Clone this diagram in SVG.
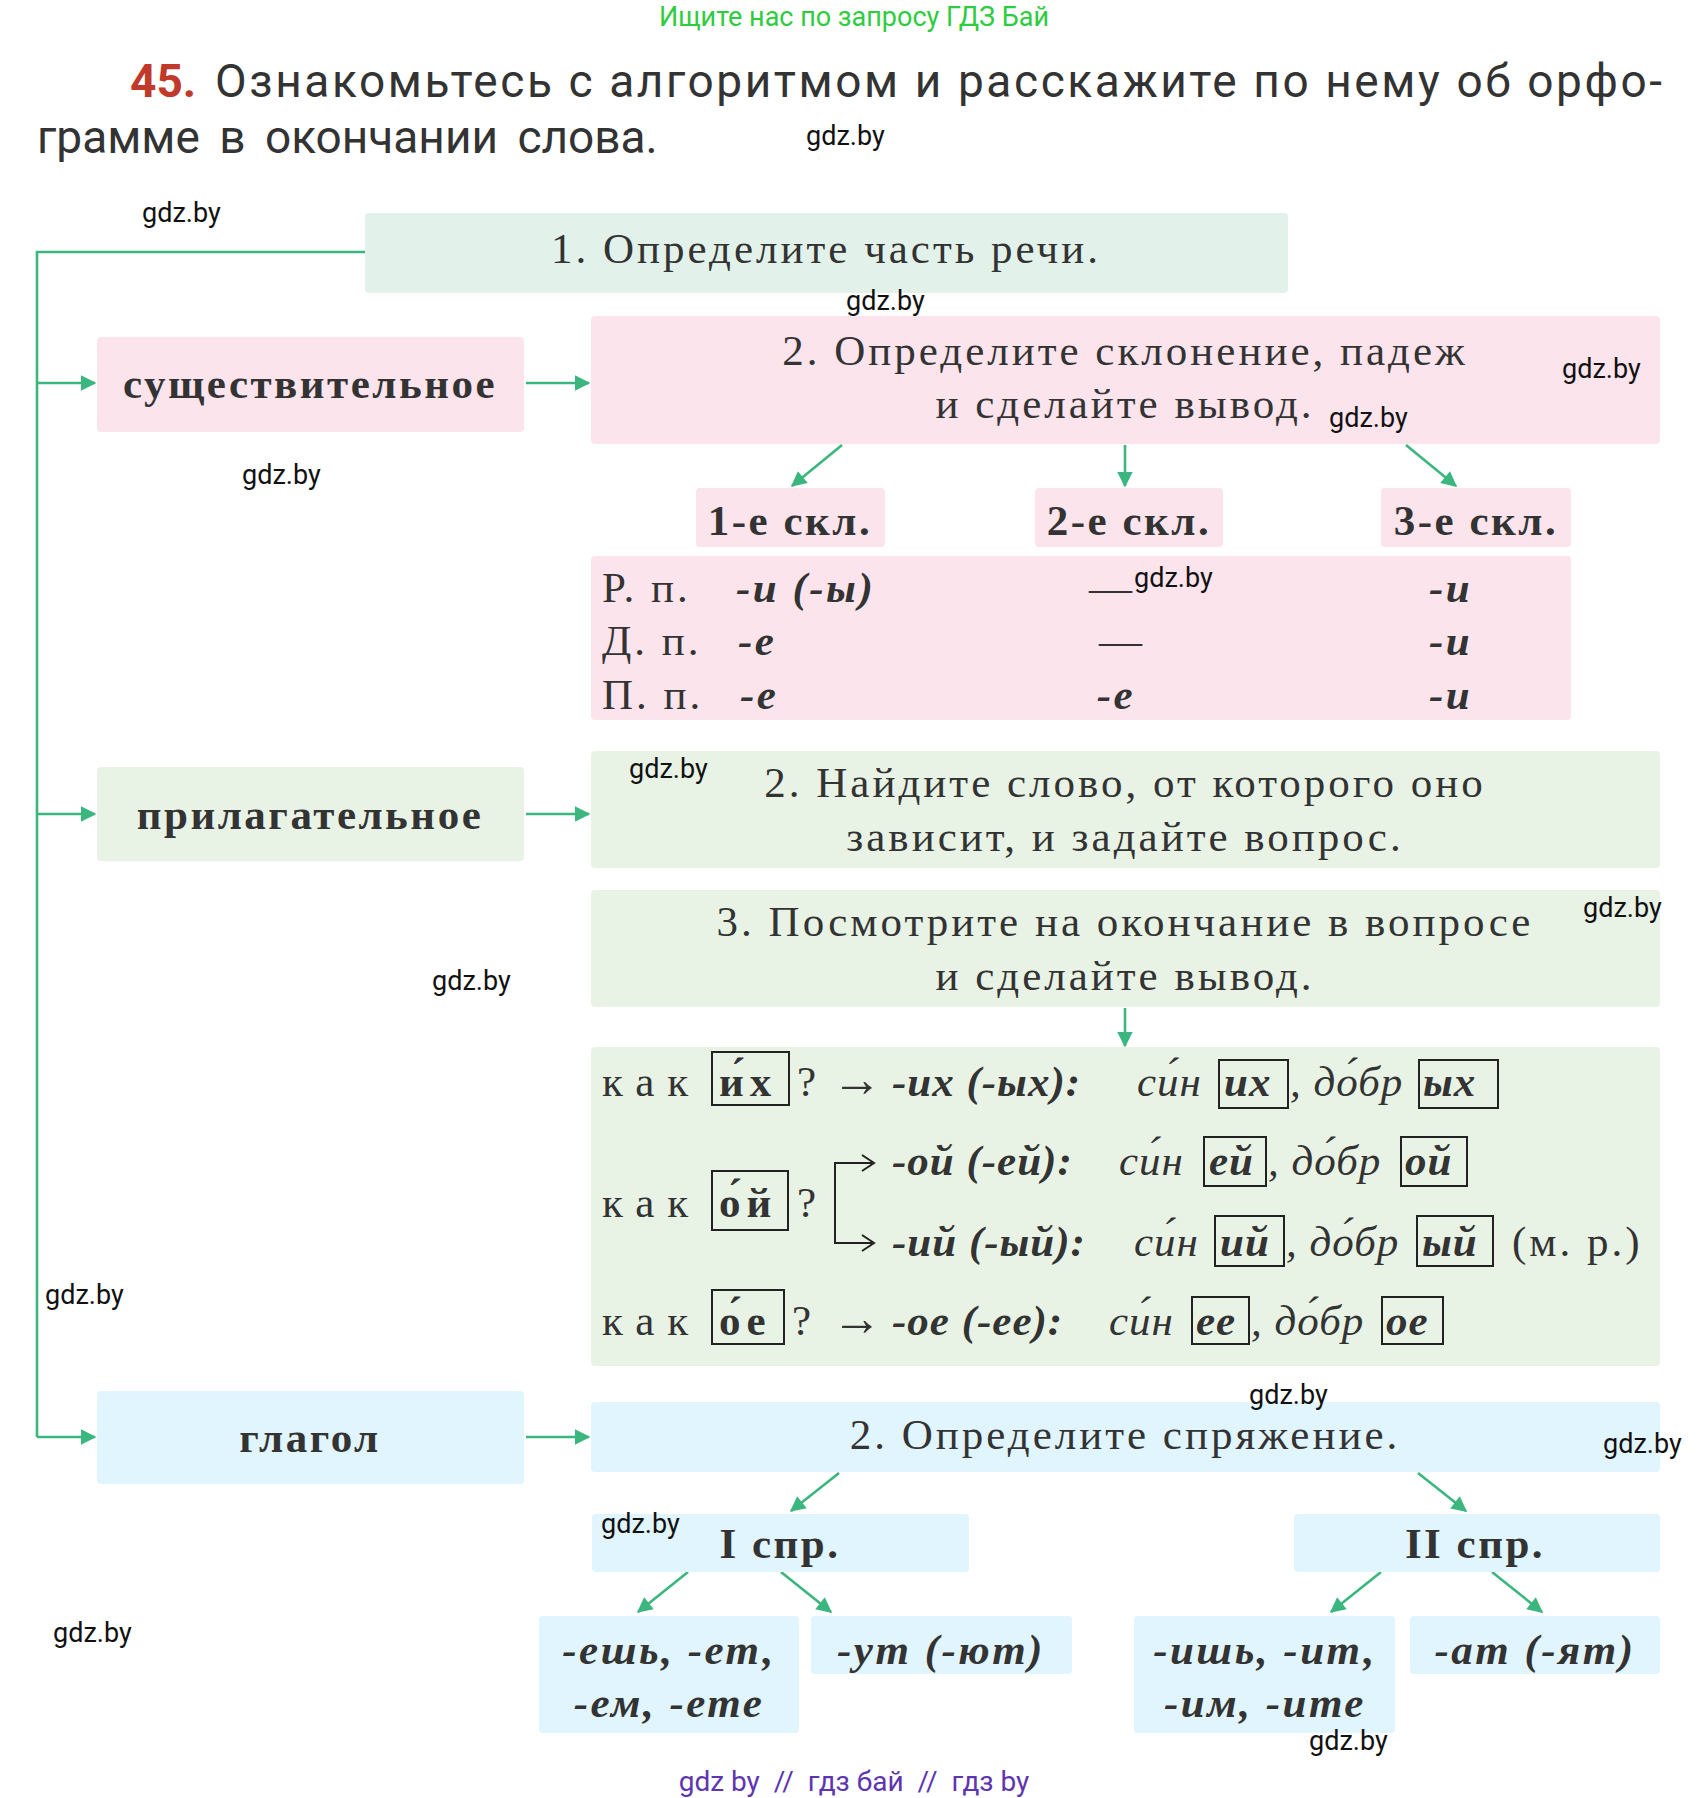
<svg xmlns="http://www.w3.org/2000/svg" width="1702" height="1798" viewBox="0 0 1702 1798">
<style>
.wm{font-family:Roboto,"Liberation Sans",sans-serif;font-size:27px;fill:#111}
.s{font-family:"Liberation Serif","DejaVu Serif",serif;font-size:43px;fill:#333;letter-spacing:3px}
.b{font-weight:bold;letter-spacing:2.5px}
.i{font-style:italic}
.x{letter-spacing:1px}
.k{letter-spacing:13px}
.bl{letter-spacing:6px}
.ar{font-size:50px;letter-spacing:0}
.c{text-anchor:middle}
.ln{stroke:#3cb67f;stroke-width:2.6;fill:none}
.bx{fill:none;stroke:#222;stroke-width:2}
</style>
<defs>
<marker id="ah" viewBox="0 0 10 10" refX="9" refY="5" markerWidth="7" markerHeight="7" orient="auto" markerUnits="userSpaceOnUse" style="overflow:visible">
<path d="M0,0 L10,5 L0,10 z" fill="#3cb67f" transform="scale(2.2) translate(-5,-2.7)"/>
</marker>
</defs>
<rect width="1702" height="1798" fill="#fff"/>
<text x="854" y="26" text-anchor="middle" font-family="Roboto,'Liberation Sans',sans-serif" font-size="27" fill="#2ecc40">Ищите нас по запросу ГДЗ Бай</text>
<text x="130" y="97" font-family="Roboto,'Liberation Sans',sans-serif" font-size="46" fill="#333"><tspan fill="#c0392b" font-weight="bold">45.</tspan><tspan x="215" textLength="1447" lengthAdjust="spacing">Ознакомьтесь с алгоритмом и расскажите по нему об орфо-</tspan></text>
<text x="37" y="153" font-family="Roboto,'Liberation Sans',sans-serif" font-size="46" fill="#333" word-spacing="8">грамме в окончании слова.</text>

<g id="connectors">
<polyline class="ln" points="365,252 37,252 37,1437"/>
<line class="ln" x1="37" y1="383" x2="95" y2="383" marker-end="url(#ah)"/>
<line class="ln" x1="37" y1="814" x2="95" y2="814" marker-end="url(#ah)"/>
<line class="ln" x1="37" y1="1437" x2="95" y2="1437" marker-end="url(#ah)"/>
<line class="ln" x1="526" y1="383" x2="589" y2="383" marker-end="url(#ah)"/>
<line class="ln" x1="526" y1="814" x2="589" y2="814" marker-end="url(#ah)"/>
<line class="ln" x1="526" y1="1437" x2="589" y2="1437" marker-end="url(#ah)"/>
<line class="ln" x1="842" y1="445" x2="792" y2="486" marker-end="url(#ah)"/>
<line class="ln" x1="1125" y1="445" x2="1125" y2="486" marker-end="url(#ah)"/>
<line class="ln" x1="1406" y1="445" x2="1456" y2="486" marker-end="url(#ah)"/>
<line class="ln" x1="1125" y1="1008" x2="1125" y2="1046" marker-end="url(#ah)"/>
<line class="ln" x1="839" y1="1473" x2="791" y2="1511" marker-end="url(#ah)"/>
<line class="ln" x1="1418" y1="1473" x2="1466" y2="1511" marker-end="url(#ah)"/>
<line class="ln" x1="688" y1="1572" x2="638" y2="1612" marker-end="url(#ah)"/>
<line class="ln" x1="781" y1="1572" x2="831" y2="1612" marker-end="url(#ah)"/>
<line class="ln" x1="1381" y1="1572" x2="1331" y2="1612" marker-end="url(#ah)"/>
<line class="ln" x1="1492" y1="1572" x2="1542" y2="1612" marker-end="url(#ah)"/>
</g>

<g id="n1"><rect x="365" y="213" width="923" height="80" rx="4" fill="#e2f2ea"/><text class="s c" x="826" y="263">1. Определите часть речи.</text></g>

<g id="noun"><rect x="97" y="337" width="427" height="95" rx="4" fill="#fce4ec"/><text class="s b c" x="310" y="398">существительное</text></g>
<g id="noun2"><rect x="591" y="316" width="1069" height="128" rx="4" fill="#fce4ec"/><text class="s c" x="1125" y="365">2. Определите склонение, падеж</text><text class="s c" x="1125" y="418">и сделайте вывод.</text></g>
<g id="d1"><rect x="696" y="488" width="189" height="59" rx="4" fill="#fce4ec"/><text class="s b c" x="790" y="535">1-е скл.</text></g>
<g id="d2"><rect x="1035" y="488" width="188" height="59" rx="4" fill="#fce4ec"/><text class="s b c" x="1129" y="535">2-е скл.</text></g>
<g id="d3"><rect x="1381" y="488" width="190" height="59" rx="4" fill="#fce4ec"/><text class="s b c" x="1476" y="535">3-е скл.</text></g>
<g id="table"><rect x="591" y="556" width="980" height="164" rx="4" fill="#fce4ec"/>
<text class="s" x="602" y="602">Р. п.</text><text class="s" x="602" y="655">Д. п.</text><text class="s" x="602" y="709">П. п.</text>
<text class="s b i" x="736" y="602">-и (-ы)</text><text class="s b i" x="738" y="655">-е</text><text class="s b i" x="740" y="709">-е</text>
<text class="s c" x="1112" y="602">—</text><text class="s c" x="1122" y="655">—</text><text class="s b i c" x="1116" y="709">-е</text>
<text class="s b i" x="1429" y="602">-и</text><text class="s b i" x="1429" y="655">-и</text><text class="s b i" x="1429" y="709">-и</text>
</g>

<g id="adj"><rect x="97" y="767" width="427" height="94" rx="4" fill="#e8f3e6"/><text class="s b c" x="310" y="829">прилагательное</text></g>
<g id="adj2"><rect x="591" y="751" width="1069" height="117" rx="4" fill="#e8f3e6"/><text class="s c" x="1125" y="797">2. Найдите слово, от которого оно</text><text class="s c" x="1125" y="851">зависит, и задайте вопрос.</text></g>
<g id="adj3"><rect x="591" y="890" width="1069" height="117" rx="4" fill="#e8f3e6"/><text class="s c" x="1125" y="936">3. Посмотрите на окончание в вопросе</text><text class="s c" x="1125" y="990">и сделайте вывод.</text></g>
<g id="adj4"><rect x="591" y="1047" width="1069" height="319" rx="4" fill="#e8f3e6"/>
<rect class="bx" x="712" y="1052" width="77" height="53"/><rect class="bx" x="1219" y="1060" width="69" height="48"/><rect class="bx" x="1419" y="1060" width="79" height="48"/>
<text class="s k" x="602" y="1096">как</text><text class="s b bl" x="719" y="1096">и́х</text><text class="s" x="797" y="1096">?</text><text class="s ar" x="832" y="1096">→</text>
<text class="s b i x" x="892" y="1096">-их (-ых):</text><text class="s i x" x="1137" y="1096">си́н</text><text class="s b i x" x="1224" y="1096">их</text><text class="s i x" x="1290" y="1096">, до́бр</text><text class="s b i x" x="1423" y="1096">ых</text>

<rect class="bx" x="712" y="1171" width="76" height="59"/>
<text class="s k" x="602" y="1217">как</text><text class="s b bl" x="719" y="1217">о́й</text><text class="s" x="797" y="1217">?</text>
<polyline points="872,1163 835,1163 835,1243 872,1243" fill="none" stroke="#222" stroke-width="2"/>
<path d="M862,1155 L874,1163 L862,1171 M862,1235 L874,1243 L862,1251" fill="none" stroke="#222" stroke-width="2"/>
<rect class="bx" x="1204" y="1137" width="62" height="49"/><rect class="bx" x="1401" y="1137" width="66" height="49"/>
<text class="s b i x" x="892" y="1175">-ой (-ей):</text><text class="s i x" x="1119" y="1175">си́н</text><text class="s b i x" x="1209" y="1175">ей</text><text class="s i x" x="1268" y="1175">, до́бр</text><text class="s b i x" x="1405" y="1175">ой</text>
<rect class="bx" x="1215" y="1216" width="69" height="50"/><rect class="bx" x="1417" y="1216" width="76" height="50"/>
<text class="s b i x" x="892" y="1256">-ий (-ый):</text><text class="s i x" x="1134" y="1256">си́н</text><text class="s b i x" x="1220" y="1256">ий</text><text class="s i x" x="1286" y="1256">, до́бр</text><text class="s b i x" x="1422" y="1256">ый</text><text class="s" x="1512" y="1256">(м. р.)</text>

<rect class="bx" x="712" y="1290" width="72" height="54"/><rect class="bx" x="1192" y="1297" width="57" height="47"/><rect class="bx" x="1382" y="1297" width="61" height="47"/>
<text class="s k" x="602" y="1335">как</text><text class="s b bl" x="719" y="1335">о́е</text><text class="s" x="792" y="1335">?</text><text class="s ar" x="832" y="1335">→</text>
<text class="s b i x" x="892" y="1335">-ое (-ее):</text><text class="s i x" x="1109" y="1335">си́н</text><text class="s b i x" x="1196" y="1335">ее</text><text class="s i x" x="1251" y="1335">, до́бр</text><text class="s b i x" x="1386" y="1335">ое</text>
</g>

<g id="verb"><rect x="97" y="1391" width="427" height="93" rx="4" fill="#e1f5fe"/><text class="s b c" x="310" y="1452">глагол</text></g>
<g id="verb2"><rect x="591" y="1402" width="1069" height="70" rx="4" fill="#e1f5fe"/><text class="s c" x="1125" y="1449">2. Определите спряжение.</text></g>
<g id="c1"><rect x="592" y="1514" width="377" height="58" rx="4" fill="#e1f5fe"/><text class="s b c" x="780" y="1558">I спр.</text></g>
<g id="c2"><rect x="1294" y="1514" width="366" height="58" rx="4" fill="#e1f5fe"/><text class="s b c" x="1475" y="1558">II спр.</text></g>
<g id="e1"><rect x="539" y="1616" width="260" height="117" rx="4" fill="#e1f5fe"/><text class="s b i c" x="669" y="1664">-ешь, -ет,</text><text class="s b i c" x="669" y="1717">-ем, -ете</text></g>
<g id="e2"><rect x="811" y="1616" width="261" height="58" rx="4" fill="#e1f5fe"/><text class="s b i c" x="941" y="1664">-ут (-ют)</text></g>
<g id="e3"><rect x="1134" y="1616" width="261" height="117" rx="4" fill="#e1f5fe"/><text class="s b i c" x="1265" y="1664">-ишь, -ит,</text><text class="s b i c" x="1265" y="1717">-им, -ите</text></g>
<g id="e4"><rect x="1410" y="1616" width="250" height="58" rx="4" fill="#e1f5fe"/><text class="s b i c" x="1535" y="1664">-ат (-ят)</text></g>

<g id="watermarks">
<text class="wm" x="806" y="145">gdz.by</text>
<text class="wm" x="142" y="222">gdz.by</text>
<text class="wm" x="846" y="310">gdz.by</text>
<text class="wm" x="1562" y="378">gdz.by</text>
<text class="wm" x="1329" y="427">gdz.by</text>
<text class="wm" x="242" y="484">gdz.by</text>
<text class="wm" x="1134" y="587">gdz.by</text>
<text class="wm" x="629" y="778">gdz.by</text>
<text class="wm" x="1583" y="917">gdz.by</text>
<text class="wm" x="432" y="990">gdz.by</text>
<text class="wm" x="45" y="1304">gdz.by</text>
<text class="wm" x="1249" y="1404">gdz.by</text>
<text class="wm" x="1603" y="1453">gdz.by</text>
<text class="wm" x="601" y="1533">gdz.by</text>
<text class="wm" x="53" y="1642">gdz.by</text>
<text class="wm" x="1309" y="1750">gdz.by</text>
</g>
<text x="854" y="1791" text-anchor="middle" font-family="Roboto,'Liberation Sans',sans-serif" font-size="28" fill="#5e35b1" xml:space="preserve">gdz by  //  гдз бай  //  гдз by</text>
</svg>
